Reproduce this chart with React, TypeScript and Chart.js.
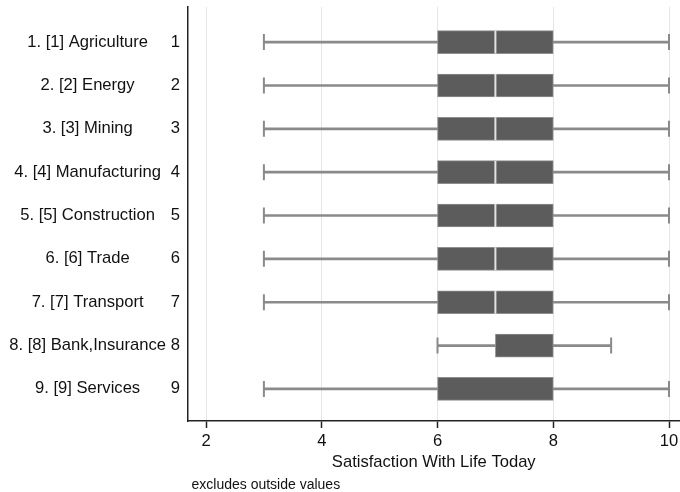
import React, { useEffect, useRef } from "react";
import { Chart, registerables } from "chart.js";

Chart.register(...registerables);

const categories = [
  "1. [1] Agriculture",
  "2. [2] Energy",
  "3. [3] Mining",
  "4. [4] Manufacturing",
  "5. [5] Construction",
  "6. [6] Trade",
  "7. [7] Transport",
  "8. [8] Bank,Insurance",
  "9. [9] Services",
];
const codes = [1, 2, 3, 4, 5, 6, 7, 8, 9];
const lowerWhisker = [3, 3, 3, 3, 3, 3, 3, 6, 3];
const q1 = [6, 6, 6, 6, 6, 6, 6, 7, 6];
const median = [7, 7, 7, 7, 7, 7, 7, 8, 8];
const q3 = [8, 8, 8, 8, 8, 8, 8, 8, 8];
const upperWhisker = [10, 10, 10, 10, 10, 10, 10, 9, 10];
const xTicks = [2, 4, 6, 8, 10];
const xTitle = "Satisfaction With Life Today";
const note = "excludes outside values";

const FONT = "'Liberation Sans', Arial, Helvetica, sans-serif";

export default function App() {
  const ref = useRef<HTMLCanvasElement | null>(null);

  useEffect(() => {
    document.body.style.margin = "0";
    document.body.style.overflow = "hidden";
    const canvas = ref.current;
    if (!canvas) return;

    const notePlugin = {
      id: "notePlugin",
      afterDraw(chart: any) {
        const ctx = chart.ctx;
        ctx.save();
        ctx.font = `14px ${FONT}`;
        ctx.fillStyle = "#111";
        ctx.textAlign = "left";
        ctx.textBaseline = "middle";
        ctx.fillText(note, chart.chartArea.left + 4, 485);
        ctx.restore();
      },
    };

    const zeroPad = (s: any) => {
      s.paddingTop = 0;
      s.paddingBottom = 0;
      s.paddingLeft = 0;
      s.paddingRight = 0;
    };

    const chart = new Chart(canvas, {
      type: "bar",
      data: {
        datasets: [
          {
            type: "bar",
            indexAxis: "y",
            label: "whisker",
            data: codes.map((c, i) => ({ x: [lowerWhisker[i], upperWhisker[i]], y: c })),
            backgroundColor: "#8a8a8a",
            borderWidth: 0,
            barThickness: 2,
            grouped: false,
            order: 4,
            xAxisID: "x",
            yAxisID: "y",
          } as any,
          {
            type: "scatter",
            label: "caps",
            data: codes.flatMap((c, i) => [
              { x: lowerWhisker[i], y: c },
              { x: upperWhisker[i], y: c },
            ]),
            pointStyle: "line",
            rotation: 90,
            radius: 8,
            borderColor: "#8a8a8a",
            borderWidth: 2,
            showLine: false,
            order: 3,
            xAxisID: "x",
            yAxisID: "y",
          } as any,
          {
            type: "bar",
            indexAxis: "y",
            label: "box",
            data: codes.map((c, i) => ({ x: [q1[i], q3[i]], y: c })),
            backgroundColor: "#5c5c5c",
            borderColor: "#8f8f8f",
            borderWidth: 1,
            borderSkipped: false,
            barThickness: 23,
            grouped: false,
            order: 2,
            xAxisID: "x",
            yAxisID: "y",
          } as any,
          {
            type: "scatter",
            label: "median",
            data: codes
              .map((c, i) => ({ x: median[i], y: c, inside: median[i] > q1[i] && median[i] < q3[i] }))
              .filter((p) => p.inside)
              .map((p) => ({ x: p.x, y: p.y })),
            pointStyle: "line",
            rotation: 90,
            radius: 11.5,
            borderColor: "#e2e2e2",
            borderWidth: 2,
            showLine: false,
            order: 1,
            xAxisID: "x",
            yAxisID: "y",
          } as any,
        ],
      },
      options: {
        animation: false,
        responsive: false,
        events: [],
        layout: { autoPadding: false, padding: { top: 7, right: 0, bottom: 20, left: 0 } },
        plugins: {
          legend: { display: false },
          tooltip: { enabled: false },
        },
        scales: {
          x: {
            type: "linear",
            position: "bottom",
            offset: false,
            min: 1.68,
            max: 10.19,
            afterBuildTicks: (s: any) => {
              s.ticks = xTicks.map((v) => ({ value: v }));
            },
            afterFit: (s: any) => {
              s.height = 51;
              zeroPad(s);
            },
            grid: {
              offset: false,
              color: "#e6e6e6",
              lineWidth: 1,
              tickColor: "#222",
              tickLength: 7,
              tickWidth: 1.5,
            },
            border: { display: true, color: "#222", width: 1.5 },
            ticks: {
              padding: 3,
              color: "#111",
              font: { family: FONT, size: 16.6 },
              callback: (v: any) => String(v),
            },
            title: {
              display: true,
              text: xTitle,
              color: "#111",
              padding: { top: 0, bottom: 0 },
              font: { family: FONT, size: 16.6 },
            },
          },
          y: {
            type: "linear",
            position: "left",
            weight: 0,
            offset: false,
            reverse: true,
            min: 0.19,
            max: 9.74,
            afterBuildTicks: (s: any) => {
              s.ticks = codes.map((v) => ({ value: v }));
            },
            afterFit: (s: any) => {
              s.width = 17.5;
              zeroPad(s);
            },
            grid: { display: false, drawTicks: false, offset: false },
            border: { display: true, color: "#222", width: 1.5 },
            ticks: {
              padding: 7.5,
              color: "#111",
              font: { family: FONT, size: 16.6 },
              callback: (v: any) => String(v),
            },
          },
          y2: {
            type: "linear",
            position: "left",
            weight: 1,
            offset: false,
            reverse: true,
            min: 0.19,
            max: 9.74,
            afterBuildTicks: (s: any) => {
              s.ticks = codes.map((v) => ({ value: v }));
            },
            afterFit: (s: any) => {
              s.width = 170;
              zeroPad(s);
            },
            grid: { display: false, drawTicks: false, offset: false },
            border: { display: false },
            ticks: {
              padding: 4,
              crossAlign: "center",
              color: "#111",
              font: { family: FONT, size: 16.6 },
              callback: (v: any) => {
                const idx = codes.indexOf(Number(v));
                return idx >= 0 ? categories[idx] : "";
              },
            },
          },
        },
      } as any,
      plugins: [notePlugin],
    });

    return () => {
      chart.destroy();
    };
  }, []);

  return (
    <div style={{ width: 680, height: 492, position: "relative", overflow: "hidden", background: "#fff" }}>
      <canvas ref={ref} width={680} height={492} style={{ display: "block" }} />
    </div>
  );
}
